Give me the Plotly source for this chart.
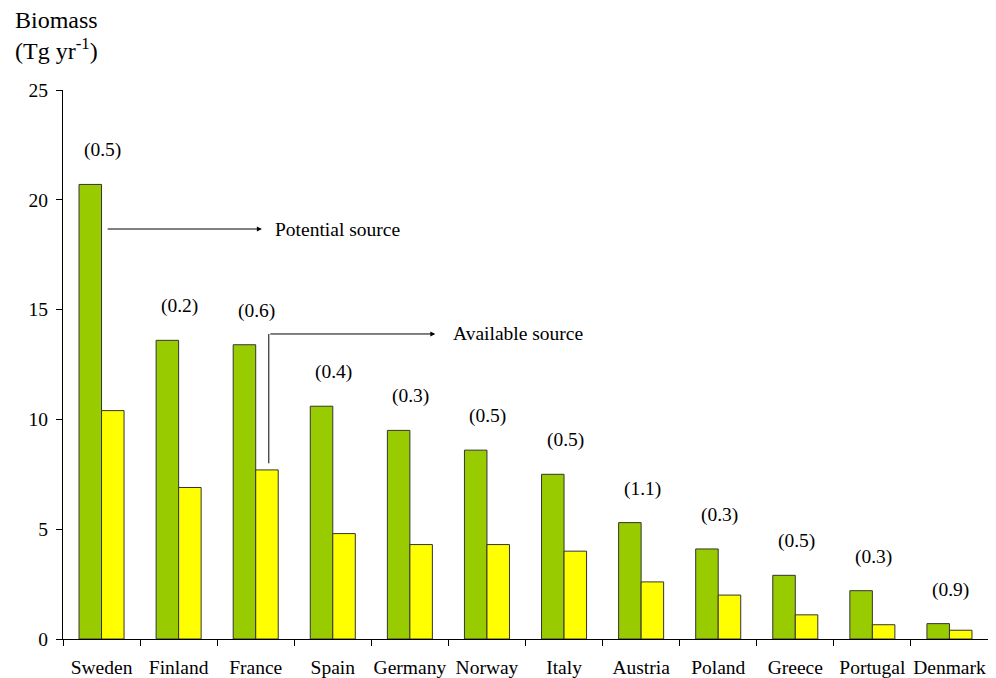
import plotly.graph_objects as go

countries = ["Sweden", "Finland", "France", "Spain", "Germany", "Norway",
             "Italy", "Austria", "Poland", "Greece", "Portugal", "Denmark"]
potential = [20.7, 13.6, 13.4, 10.6, 9.5, 8.6, 7.5, 5.3, 4.1, 2.9, 2.2, 0.7]
available = [10.4, 6.9, 7.7, 4.8, 4.3, 4.3, 4.0, 2.6, 2.0, 1.1, 0.65, 0.4]
ratios = ["(0.5)", "(0.2)", "(0.6)", "(0.4)", "(0.3)", "(0.5)",
          "(0.5)", "(1.1)", "(0.3)", "(0.5)", "(0.3)", "(0.9)"]
y_ticks = [0, 5, 10, 15, 20, 25]

FONT = "Times New Roman, Liberation Serif, DejaVu Serif, serif"
FS = 19.5
edge = dict(color="#333333", width=1)

fig = go.Figure()
fig.add_trace(go.Bar(x=countries, y=potential, name="Potential source",
                     marker=dict(color="#99CC00", line=edge)))
fig.add_trace(go.Bar(x=countries, y=available, name="Available source",
                     marker=dict(color="#FFFF00", line=edge)))

annotations = []
for c, p, r in zip(countries, potential, ratios):
    annotations.append(dict(x=c, y=p, xref="x", yref="y", text=r, showarrow=False,
                            yanchor="middle", yshift=34, xshift=1,
                            font=dict(family=FONT, size=FS, color="black")))

# Title (two lines)
annotations.append(dict(x=-0.054, y=1.1275, xref="paper", yref="paper",
                        xanchor="left", yanchor="middle", showarrow=False,
                        text="Biomass", font=dict(family=FONT, size=24, color="black")))
annotations.append(dict(x=-0.054, y=1.0745, xref="paper", yref="paper",
                        xanchor="left", yanchor="middle", showarrow=False,
                        text="(Tg yr<sup>-1</sup>)",
                        font=dict(family=FONT, size=24, color="black")))

# Potential source arrow
annotations.append(dict(x=2.08, y=18.67, ax=0.06, ay=18.67, xref="x", yref="y",
                        axref="x", ayref="y", showarrow=True, arrowhead=2,
                        arrowsize=1, arrowwidth=1, arrowcolor="black", text=""))
annotations.append(dict(x=2.23, y=18.67, xref="x", yref="y", text="Potential source",
                        showarrow=False, xanchor="left", yanchor="middle",
                        font=dict(family=FONT, size=FS, color="black")))
# Available source arrow
annotations.append(dict(x=4.33, y=13.89, ax=2.17, ay=13.89, xref="x", yref="y",
                        axref="x", ayref="y", showarrow=True, arrowhead=2,
                        arrowsize=1, arrowwidth=1, arrowcolor="black", text=""))
annotations.append(dict(x=4.53, y=13.89, xref="x", yref="y", text="Available source",
                        showarrow=False, xanchor="left", yanchor="middle",
                        font=dict(family=FONT, size=FS, color="black")))

shapes = [dict(type="line", xref="x", yref="y", x0=2.17, x1=2.17, y0=8.0, y1=13.89,
               line=dict(color="black", width=1))]

fig.update_layout(
    width=988, height=670,
    margin=dict(l=55, r=8, t=82, b=39),
    paper_bgcolor="white", plot_bgcolor="white",
    barmode="group", bargap=0.416, bargroupgap=0,
    showlegend=False,
    font=dict(family=FONT, size=FS, color="black"),
    annotations=annotations, shapes=shapes,
)
fig.update_xaxes(type="category", showline=True, linecolor="black", linewidth=1,
                 ticks="outside", ticklen=6, tickcolor="black", tickson="boundaries",
                 showgrid=False, zeroline=False, ticklabelstandoff=11, automargin=False,
                 tickangle=0,
                 tickfont=dict(family=FONT, size=FS, color="black"))
fig.update_yaxes(range=[0, 25], tickvals=y_ticks, showline=True, linecolor="black",
                 linewidth=1, ticks="outside", ticklen=6, tickcolor="black",
                 showgrid=False, zeroline=False, ticklabelstandoff=4, automargin=False,
                 tickfont=dict(family=FONT, size=FS, color="black"))

fig.write_html("out.html")
